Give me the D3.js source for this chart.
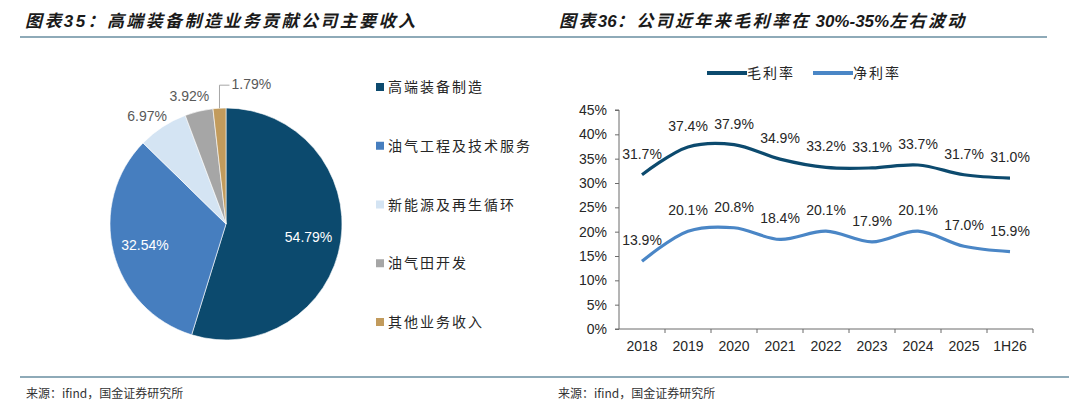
<!DOCTYPE html>
<html>
<head>
<meta charset="utf-8">
<style>
  body { margin: 0; background: #fff; }
  svg { display: block; }
  .title { font: italic bold 17px "Liberation Sans", "Noto Sans CJK SC", sans-serif; fill: #1a1a1a; letter-spacing: 2.4px; }
  .title .lat { letter-spacing: 0; }
  .src { font: 12px "Noto Sans CJK SC", sans-serif; fill: #333; }
  .leg { font: 14px "Noto Sans CJK SC", sans-serif; fill: #262626; letter-spacing: 2px; }
  .num { font: 14px "Liberation Sans", Arial, sans-serif; }
</style>
</head>
<body>
<script src="https://cdn.jsdelivr.net/npm/d3@7"></script>
<script>
// ---- data ----
var pieNames  = ["高端装备制造", "油气工程及技术服务", "新能源及再生循环", "油气田开发", "其他业务收入"];
var pieValues = [54.79, 32.54, 6.97, 3.92, 1.79];
var pieColors = ["#0c4a6e", "#467ebf", "#d4e4f3", "#a6a6a6", "#c29b5c"];

var years    = ["2018", "2019", "2020", "2021", "2022", "2023", "2024", "2025", "1H26"];
var gross    = [31.7, 37.4, 37.9, 34.9, 33.2, 33.1, 33.7, 31.7, 31.0];
var net      = [13.9, 20.1, 20.8, 18.4, 20.1, 17.9, 20.1, 17.0, 15.9];
var lineNames  = ["毛利率", "净利率"];
var lineColors = ["#0c4a6e", "#4a86c6"];
var yTicks = [0, 5, 10, 15, 20, 25, 30, 35, 40, 45];

var W = 1080, H = 407;
var svg = d3.select("body").append("svg").attr("width", W).attr("height", H);

// titles, rules, sources
svg.append("text").attr("class", "title").attr("x", 25).attr("y", 27)
   .text("图表35：高端装备制造业务贡献公司主要收入");
var t2 = svg.append("text").attr("class", "title").attr("x", 559).attr("y", 27);
t2.append("tspan").text("图表");
t2.append("tspan").attr("class", "lat").text("36");
t2.append("tspan").text("：公司近年来毛利率在");
t2.append("tspan").attr("class", "lat").text(" 30%-35%");
t2.append("tspan").text("左右波动");

svg.append("line").attr("x1", 20).attr("x2", 1047).attr("y1", 37).attr("y2", 37)
   .attr("stroke", "#1f5673").attr("stroke-width", 1.2);
svg.append("line").attr("x1", 20).attr("x2", 1069).attr("y1", 377).attr("y2", 377)
   .attr("stroke", "#1f5673").attr("stroke-width", 1.2);
svg.append("text").attr("class", "src").attr("x", 26).attr("y", 398).text("来源：ifind，国金证券研究所");
svg.append("text").attr("class", "src").attr("x", 558).attr("y", 398).text("来源：ifind，国金证券研究所");

// ---- pie ----
var cx = 226, cy = 224, R = 116;
var pieG = svg.append("g").attr("transform", "translate(" + cx + "," + cy + ")");
var arcs = d3.pie().sort(null).value(d => d)(pieValues);
var arc = d3.arc().innerRadius(0).outerRadius(R);
pieG.selectAll("path").data(arcs).join("path")
    .attr("d", arc)
    .attr("fill", (d, i) => pieColors[i])
    .attr("stroke", "#fff").attr("stroke-width", 0.6);

var inArc = d3.arc().innerRadius(R * 0.72).outerRadius(R * 0.72);
arcs.forEach(function (d, i) {
  var mid = (d.startAngle + d.endAngle) / 2;
  var label = pieValues[i].toFixed(2) + "%";
  if (i < 2) {
    var c = inArc.centroid(d);
    pieG.append("text").attr("class", "num").attr("x", c[0]).attr("y", c[1] + 5)
        .attr("text-anchor", "middle").attr("fill", "#fff").text(label);
  } else if (i < 4) {
    var r = R + 4, w = 36, h = 14;
    var px = r * Math.sin(mid), py = -r * Math.cos(mid);
    var lx = px - w / 2 * Math.sqrt(Math.abs(Math.sin(mid))), ly = py - h / 2 - 4 * (i - 2);
    pieG.append("text").attr("class", "num").attr("x", lx).attr("y", ly + 5)
        .attr("text-anchor", "middle").attr("fill", "#595959").text(label);
  } else {
    // leader line for the smallest slice
    var sx = R * Math.sin(mid), sy = -R * Math.cos(mid);
    var ty = sy - 23;
    pieG.append("path")
        .attr("d", "M" + sx + "," + sy + "V" + ty + "H" + (sx + 10))
        .attr("fill", "none").attr("stroke", "#a6a6a6").attr("stroke-width", 1);
    pieG.append("text").attr("class", "num").attr("x", sx + 12).attr("y", ty + 4)
        .attr("fill", "#595959").text(label);
  }
});

// pie legend (clipped at panel edge)
svg.append("clipPath").attr("id", "legClip").append("rect")
   .attr("x", 360).attr("y", 60).attr("width", 170).attr("height", 300);
var legY = d3.scalePoint().domain(pieNames).range([87, 322]);
var pl = svg.append("g").attr("clip-path", "url(#legClip)")
   .selectAll("g").data(pieNames).join("g")
   .attr("transform", d => "translate(376," + legY(d) + ")");
pl.append("rect").attr("x", 0).attr("y", -4).attr("width", 8).attr("height", 8)
  .attr("fill", (d, i) => pieColors[i]);
pl.append("text").attr("class", "leg").attr("x", 12).attr("y", 5).text(d => d);

// ---- line chart ----
var x = d3.scaleBand().domain(years).range([619, 1033]);
var y = d3.scaleLinear().domain([0, 45]).range([329, 110]);

var yAxis = svg.append("g").attr("transform", "translate(619,0)")
   .call(d3.axisLeft(y).tickValues(yTicks).tickFormat(d => d + "%").tickSize(4).tickPadding(8));
yAxis.selectAll("text").attr("class", "num").attr("fill", "#262626");

var xAxis = svg.append("g").attr("transform", "translate(0,329)")
   .call(d3.axisBottom(x).tickSize(0).tickPadding(12));
xAxis.selectAll("text").attr("class", "num").attr("font-weight", "bold").attr("fill", "#262626");
xAxis.selectAll(".tick line").remove();
xAxis.selectAll(".bt").data(years).join("line")
   .attr("x1", d => x(d) + x.bandwidth()).attr("x2", d => x(d) + x.bandwidth())
   .attr("y1", 0).attr("y2", 4);
[yAxis, xAxis].forEach(a => a.selectAll("path,line").attr("stroke", "#6b6b6b"));
yAxis.select(".domain").attr("d", "M0," + y(0) + "V" + y(45) + "H-4M0," + y(0) + "H-4");
xAxis.select(".domain").attr("d", "M619,0H1033");

var cxp = d => x(d) + x.bandwidth() / 2;
var line = d3.line().curve(d3.curveCatmullRom.alpha(0.5))
   .x((d, i) => cxp(years[i])).y(d => y(d));

[gross, net].forEach(function (series, k) {
  svg.append("path").datum(series).attr("d", line)
     .attr("fill", "none").attr("stroke", lineColors[k]).attr("stroke-width", 3.2);
  svg.append("g").selectAll("text").data(series).join("text")
     .attr("class", "num").attr("fill", "#262626").attr("text-anchor", "middle")
     .attr("x", (d, i) => cxp(years[i])).attr("y", d => y(d) - 16)
     .text(d => d.toFixed(1) + "%");
});

// line legend
var legX = [707, 813];
lineNames.forEach(function (n, k) {
  svg.append("line").attr("x1", legX[k]).attr("x2", legX[k] + 40).attr("y1", 73).attr("y2", 73)
     .attr("stroke", lineColors[k]).attr("stroke-width", 4);
  svg.append("text").attr("class", "leg").attr("x", legX[k] + 40).attr("y", 78).text(n);
});
</script>
</body>
</html>
